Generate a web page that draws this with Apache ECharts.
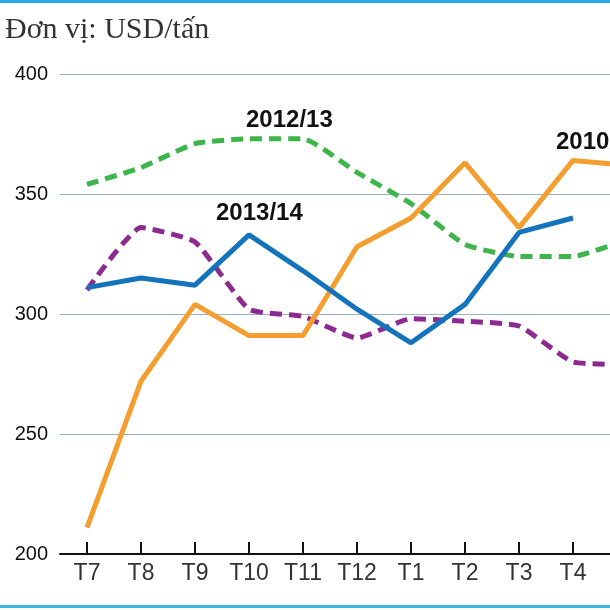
<!DOCTYPE html>
<html><head><meta charset="utf-8">
<script src="https://cdn.jsdelivr.net/npm/echarts@6/dist/echarts.min.js"></script>
<style>html,body{margin:0;padding:0;background:#fff;overflow:hidden;width:610px;height:610px}#c{width:700px;height:610px}</style>
</head><body><div id="c"></div>
<script>
var categories = ['T7','T8','T9','T10','T11','T12','T1','T2','T3','T4','T5'];
var s2010 = [211, 272, 304, 291, 291, 328, 340, 363, 336, 364, 362];
var s2012 = [354, 361, 371, 373, 373, 359, 346, 329, 324, 324, 331];
var s2013 = [311, 315, 312, 333, 318, 302, 288, 304, 334, 340];
var sPurple = [310, 336, 330, 302, 299, 290, 298, 297, 295, 280, 279];
var yTicks = {min: 200, max: 400, interval: 50};
var title = 'Đơn vị: USD/tấn';

var chart = echarts.init(document.getElementById('c'), null, {renderer: 'canvas'});
var dashed = [12, 7];
chart.setOption({
  animation: false,
  backgroundColor: '#ffffff',
  grid: {left: 60, top: 74, bottom: 56, width: 594, containLabel: false},
  xAxis: {
    type: 'category', data: categories, boundaryGap: true,
    axisLine: {lineStyle: {color: '#111', width: 2}},
    axisTick: {show: true, alignWithLabel: true, inside: true, length: 12, lineStyle: {color: '#111', width: 2}},
    axisLabel: {color: '#333', fontSize: 23, fontFamily: 'Liberation Sans', margin: 8, interval: 0}
  },
  yAxis: {
    type: 'value', min: yTicks.min, max: yTicks.max, interval: yTicks.interval,
    axisLine: {show: false}, axisTick: {show: false},
    axisLabel: {color: '#111', fontSize: 20, fontFamily: 'Liberation Sans', margin: 12},
    splitLine: {lineStyle: {color: '#9bb0c4', width: 1}}
  },
  series: [
    {name: '2010/11', type: 'line', data: s2010, symbol: 'none', smooth: false,
     lineStyle: {color: '#f49e30', width: 5}, z: 3},
    {name: '2012/13', type: 'line', data: s2012, symbol: 'none', smooth: 0.15,
     lineStyle: {color: '#3db54a', width: 5, type: dashed}, z: 2},
    {name: 'purple', type: 'line', data: sPurple, symbol: 'none', smooth: 0.15,
     lineStyle: {color: '#8c2a8f', width: 5, type: dashed}, z: 2},
    {name: '2013/14', type: 'line', data: s2013, symbol: 'none', smooth: false,
     lineStyle: {color: '#1474bb', width: 5}, z: 4}
  ],
  graphic: [
    {type: 'rect', shape: {x: 0, y: 0, width: 700, height: 3}, style: {fill: '#27a9e1'}},
    {type: 'rect', shape: {x: 0, y: 605, width: 700, height: 3}, style: {fill: '#3ab6e0'}},
    {type: 'text', left: 5, top: 15, style: {text: title, font: '30px "Liberation Serif"', fill: '#333'}},
    {type: 'text', left: 246, top: 108, style: {text: '2012/13', font: 'bold 24px "Liberation Sans"', fill: '#111'}},
    {type: 'text', left: 216, top: 201, style: {text: '2013/14', font: 'bold 24px "Liberation Sans"', fill: '#111'}},
    {type: 'text', left: 556, top: 130, style: {text: '2010/11', font: 'bold 24px "Liberation Sans"', fill: '#111'}}
  ]
});
</script></body></html>
